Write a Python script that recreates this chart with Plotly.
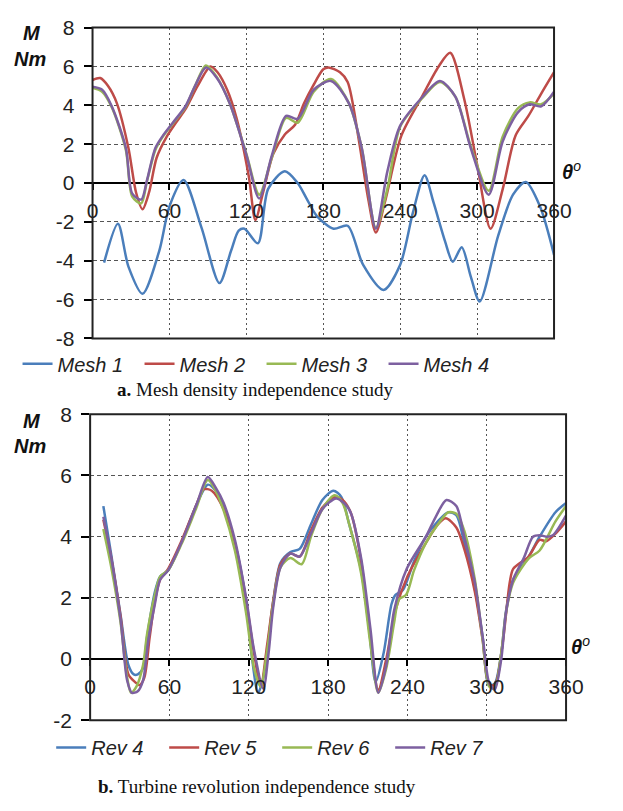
import plotly.graph_objects as go

# ---------------- data: panel a (mesh density) ----------------
mesh1_theta = [9, 19.8, 28, 39, 52, 60, 71, 85, 99, 108, 114, 118.5, 129, 137, 150, 160, 167, 175, 188, 199, 211, 227, 240, 250, 259, 266, 275, 281, 288, 295, 302, 316.5, 328, 338, 349, 360]
mesh1_m = [-4.1, -2.1, -4.3, -5.7, -3.5, -1.2, 0.15, -2.3, -5.15, -3.5, -2.45, -2.35, -3.1, -0.3, 0.6, 0.0, -0.8, -1.7, -2.35, -2.2, -4.2, -5.5, -4.2, -1.5, 0.4, -1.0, -3.0, -4.05, -3.3, -4.8, -6.1, -2.7, -0.6, 0.05, -1.2, -3.7]

mesh2_theta = [0, 6, 12, 19, 28, 34, 39, 44, 50, 58, 65, 72.5, 82, 92, 97.5, 105, 112.5, 122, 127, 133, 141, 150, 158, 165, 172, 180, 184, 193, 199, 208, 215, 221, 228, 241, 257, 270, 279, 290, 300, 310.5, 320, 330, 340, 350, 360]
mesh2_m = [5.3, 5.4, 5.0, 4.1, 1.8, -0.5, -1.35, -0.5, 1.3, 2.4, 3.1, 3.8, 5.0, 6.0, 5.7, 4.8, 3.3, 0.3, -1.9, -0.5, 1.5, 2.5, 3.0, 4.1, 5.0, 5.85, 5.95, 5.7, 5.2, 2.1, -0.8, -2.55, -1.0, 2.45, 4.45, 6.0, 6.7, 4.3, 0.95, -2.35, -0.3, 2.45, 3.45, 4.6, 5.7]

mesh34_theta = [0, 7.5, 15, 26, 31, 38, 42.5, 49, 55, 65, 72.5, 80, 88.5, 97, 107, 120, 130, 140, 151, 160, 172.5, 186, 200, 210, 221, 230, 240, 257, 271, 283, 295, 309, 320, 332, 341, 350, 360]
mesh3_m = [4.9, 4.7, 3.9, 1.7, -0.7, -1.05, 0.1, 1.7, 2.4, 3.25, 3.9, 5.0, 6.05, 5.45, 4.1, 1.5, -0.6, 1.35, 3.35, 3.1, 4.7, 5.35, 4.1, 1.8, -2.3, -0.3, 2.9, 4.35, 5.2, 4.45, 1.9, -0.4, 2.4, 3.85, 4.15, 4.05, 4.6]
mesh4_m = [4.95, 4.8, 3.95, 1.8, -0.55, -0.85, 0.15, 1.8, 2.45, 3.3, 3.95, 5.0, 5.95, 5.4, 4.1, 1.45, -0.8, 1.45, 3.45, 3.3, 4.8, 5.25, 4.1, 1.8, -2.35, 0.6, 2.95, 4.4, 5.25, 4.45, 1.8, -0.6, 2.15, 3.65, 4.05, 3.95, 4.7]

# ---------------- data: panel b (turbine revolution) ----------------
rev4_theta = [10, 16, 23, 29, 33, 36, 40, 43, 49, 53, 59, 69, 80, 89, 95, 101, 109.5, 118, 122, 127, 131, 138.5, 144, 151.5, 158.5, 167, 175.7, 184, 190, 196, 205, 211, 216, 222, 228, 231, 236.5, 245, 254, 263, 271, 277, 283, 291, 297, 301.5, 306, 311, 314.5, 320, 331.7, 340, 352, 360]
rev4_m = [5.0, 3.4, 1.45, -0.2, -0.5, -0.5, -0.3, 0.7, 2.2, 2.7, 2.9, 3.8, 5.0, 5.7, 5.5, 4.95, 3.8, 1.9, 0.2, -1.1, -0.6, 1.9, 3.15, 3.5, 3.6, 4.4, 5.2, 5.5, 5.3, 4.4, 2.9, 1.0, -0.75, 0.2, 1.8, 2.1, 2.25, 3.2, 4.0, 4.5, 4.8, 4.7, 3.8, 2.3, 0.7, -0.85, -0.8, 0.2, 1.55, 2.6, 3.35, 4.0, 4.8, 5.1]

rev5_theta = [10, 16, 23, 29, 34, 37.4, 41, 45, 49, 53, 59, 69, 80, 86, 92, 101, 109.5, 118, 124, 129, 134, 138.5, 144, 151.5, 158.5, 167, 175.7, 185, 191, 197, 205, 211, 218, 224, 231, 240, 254, 263, 269, 277, 283, 291, 297, 301.5, 306, 312, 317.4, 320, 331.7, 340, 345, 352, 360]
rev5_m = [4.55, 3.3, 1.4, -0.5, -0.75, -0.85, -0.6, 0.7, 1.9, 2.6, 2.95, 3.85, 5.0, 5.55, 5.5, 4.9, 3.8, 1.9, 0.2, -0.9, 0.5, 1.9, 3.1, 3.45, 3.35, 4.2, 4.95, 5.3, 5.2, 4.8, 3.2, 1.0, -1.0, 0.0, 1.6, 2.7, 3.8, 4.4, 4.6, 4.3, 3.6, 2.2, 0.6, -0.8, -0.85, 0.5, 2.5, 2.95, 3.35, 3.9, 3.85, 4.1, 4.5]

rev6_theta = [10, 16, 23, 28, 31, 35, 40, 43, 49, 53, 59, 69, 80, 89, 95, 101, 109.5, 118, 124, 129, 134, 138.5, 144, 151.5, 160, 167, 175.7, 185, 191, 196, 205, 212, 218, 224, 230, 233.5, 239, 245, 254, 263, 271, 277, 283, 291, 297, 302, 306, 311, 314.5, 320, 332, 340, 352, 360]
rev6_m = [4.25, 3.0, 1.2, -0.6, -1.1, -0.9, -0.2, 0.8, 2.1, 2.7, 2.9, 3.75, 4.9, 5.85, 5.5, 4.85, 3.55, 1.5, -0.3, -0.9, 0.3, 1.8, 3.0, 3.3, 3.1, 4.0, 4.9, 5.35, 5.1, 4.4, 2.8, 0.5, -1.1, -0.3, 1.2, 1.95, 2.1, 2.9, 3.8, 4.4, 4.8, 4.75, 4.2, 2.6, 0.6, -0.9, -0.95, 0.2, 1.5, 2.5, 3.3, 3.55, 4.5, 5.0]

rev7_theta = [10, 16, 23, 28, 31.6, 36, 40, 44, 49, 53, 59, 69, 80.5, 89, 95, 101, 109.5, 118, 124, 131, 135, 138.5, 144, 151.5, 158.5, 167, 175.7, 186, 192, 197, 205, 212, 218, 224, 230, 239.5, 254, 262, 269.5, 277, 283, 291, 297, 302, 306, 311, 314.5, 320, 328, 335, 340, 345, 350, 360]
rev7_m = [4.65, 3.3, 1.3, -0.7, -1.1, -1.05, -0.7, 0.6, 1.8, 2.6, 2.9, 3.8, 5.05, 5.95, 5.6, 5.1, 3.9, 2.0, 0.3, -0.97, 0.2, 1.7, 3.0, 3.45, 3.35, 4.1, 4.9, 5.25, 5.1, 4.8, 3.3, 1.0, -1.1, -0.2, 1.6, 2.95, 4.0, 4.7, 5.2, 5.0, 4.0, 2.5, 0.7, -0.8, -1.0, 0.0, 1.5, 2.6, 3.3, 4.0, 4.05, 4.0, 4.05, 4.7]

x_ticks = [0, 60, 120, 180, 240, 300, 360]
top_y_ticks = [-8, -6, -4, -2, 0, 2, 4, 6, 8]
bot_y_ticks = [-2, 0, 2, 4, 6, 8]
top_names = ["Mesh 1", "Mesh 2", "Mesh 3", "Mesh 4"]
bot_names = ["Rev 4", "Rev 5", "Rev 6", "Rev 7"]
caption_a = "<b>a.</b> Mesh density independence study"
caption_b = "<b>b.</b> Turbine revolution independence study"

COLORS = ["#4A7EBB", "#BE4B48", "#98B954", "#7D60A0"]
W, H = 623, 811
SANS = "Liberation Sans, Arial, sans-serif"
SERIF = "Liberation Serif, Times New Roman, serif"


def px(x):
    return x / W


def py(y):
    return 1 - y / H


fig = go.Figure()

top_series = [(mesh1_theta, mesh1_m), (mesh2_theta, mesh2_m), (mesh34_theta, mesh3_m), (mesh34_theta, mesh4_m)]
for (t, m), name, c in zip(top_series, top_names, COLORS):
    fig.add_trace(go.Scatter(x=t, y=m, name=name, mode="lines",
                             line=dict(color=c, width=2.5, shape="spline", smoothing=0.8),
                             xaxis="x", yaxis="y", legend="legend"))

bot_series = [(rev4_theta, rev4_m), (rev5_theta, rev5_m), (rev6_theta, rev6_m), (rev7_theta, rev7_m)]
for (t, m), name, c in zip(bot_series, bot_names, COLORS):
    fig.add_trace(go.Scatter(x=t, y=m, name=name, mode="lines",
                             line=dict(color=c, width=2.5, shape="spline", smoothing=0.8),
                             xaxis="x2", yaxis="y2", legend="legend2"))

tickfont = dict(family=SANS, size=21, color="#222")
grid_col = "#555"

# panel geometry (pixels)
t_l, t_r, t_top, t_bot = 90, 570, 16, 336
b_l, b_r, b_top, b_bot = 87.5, 582.5, 414, 729
t_zero = t_top + (t_bot - t_top) * 8 / 16
b_zero = b_top + (b_bot - b_top) * 8 / 10

common_x = dict(range=[0, 360], tickvals=x_ticks, ticktext=[str(v) for v in x_ticks],
                showgrid=True, gridcolor=grid_col,
                griddash="2px,3px", gridwidth=1, ticks="outside", ticklen=6,
                tickcolor="black", tickwidth=1.5, tickfont=tickfont, showline=False,
                zeroline=False, anchor="free", ticklabelstandoff=3, fixedrange=True)
common_y = dict(showgrid=True, gridcolor=grid_col, griddash="4px,3px",
                gridwidth=1, ticks="outside", ticklen=8, tickcolor="black",
                tickwidth=1.5, tickfont=tickfont, zeroline=True, zerolinecolor="black",
                zerolinewidth=2, showline=False, ticklabelstandoff=5, fixedrange=True)

fig.update_layout(
    width=W, height=H, margin=dict(l=0, r=0, t=0, b=0),
    paper_bgcolor="white", plot_bgcolor="white",
    xaxis=dict(domain=[px(t_l), px(t_r)], position=py(t_zero), **common_x),
    yaxis=dict(domain=[py(t_bot), py(t_top)], range=[-8, 8], anchor="x",
               tickvals=top_y_ticks, ticktext=[str(v) for v in top_y_ticks], **common_y),
    xaxis2=dict(domain=[px(b_l), px(b_r)], position=py(b_zero), **common_x),
    yaxis2=dict(domain=[py(b_bot), py(b_top)], range=[-2, 8], anchor="x2",
                tickvals=bot_y_ticks, ticktext=[str(v) for v in bot_y_ticks], **common_y),
    legend=dict(orientation="h", x=px(12), y=py(362), xanchor="left", yanchor="middle",
                font=dict(family=SANS, size=20, color="#222", style="italic"),
                entrywidth=77, itemwidth=30, bgcolor="rgba(0,0,0,0)"),
    legend2=dict(orientation="h", x=px(47), y=py(757), xanchor="left", yanchor="middle",
                 font=dict(family=SANS, size=20, color="#222", style="italic"),
                 entrywidth=68, itemwidth=30, bgcolor="rgba(0,0,0,0)"),
    showlegend=True,
)

# plot frames
for xr, yr in [("x", "y"), ("x2", "y2")]:
    fig.add_shape(type="rect", xref=f"{xr} domain", yref=f"{yr} domain",
                  x0=0, x1=1, y0=0, y1=1, line=dict(color="#222", width=2), layer="above")

ann = []
label_font = dict(family=SANS, size=20, color="#111")
for m_y, nm_y, th_x, th_y in [(22, 48, 588, 163), (421, 447, 597, 652)]:
    ann.append(dict(text="<b><i>M</i></b>", x=px(27), y=py(m_y), xref="paper", yref="paper",
                    showarrow=False, font=label_font, xanchor="center", yanchor="middle"))
    ann.append(dict(text="<b><i>Nm</i></b>", x=px(25), y=py(nm_y), xref="paper", yref="paper",
                    showarrow=False, font=label_font, xanchor="center", yanchor="middle"))
    ann.append(dict(text="<b><i>θ</i></b><sup><i>o</i></sup>", x=px(th_x), y=py(th_y),
                    xref="paper", yref="paper", showarrow=False, font=label_font,
                    xanchor="center", yanchor="middle"))

ann.append(dict(text=caption_a, x=px(259), y=py(389), xref="paper", yref="paper",
                showarrow=False, font=dict(family=SERIF, size=19, color="#111"),
                xanchor="center", yanchor="middle"))
ann.append(dict(text=caption_b, x=px(261), y=py(797), xref="paper", yref="paper",
                showarrow=False, font=dict(family=SERIF, size=19, color="#111"),
                xanchor="center", yanchor="middle"))
fig.update_layout(annotations=ann)

fig.write_html("out.html")
